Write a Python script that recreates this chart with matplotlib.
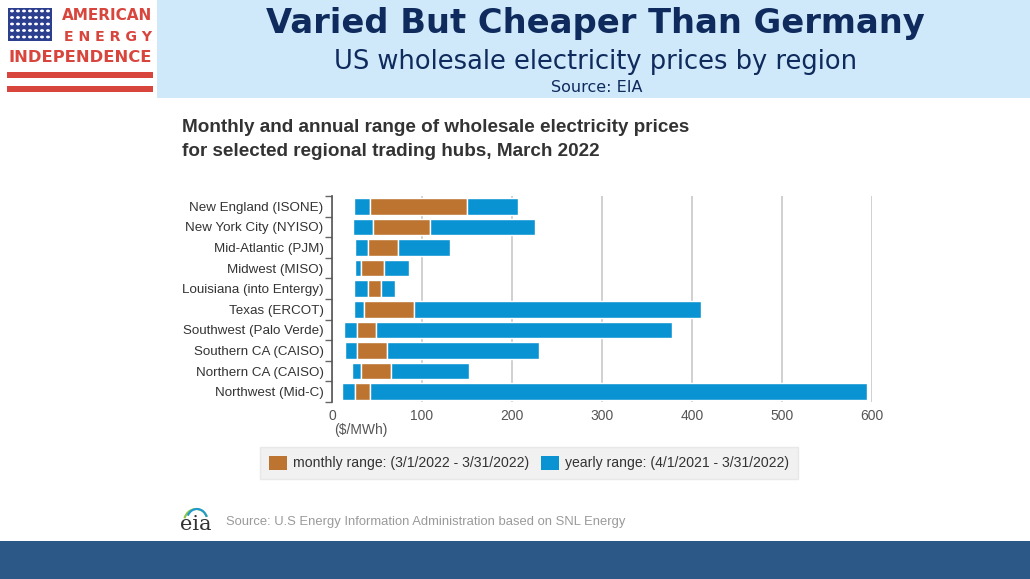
import numpy as np
import matplotlib
matplotlib.use("Agg")
import matplotlib.pyplot as plt
from matplotlib.patches import Rectangle, Patch, Arc

# price ranges in $/MWh
regions = ["New England (ISONE)", "New York City (NYISO)", "Mid-Atlantic (PJM)",
           "Midwest (MISO)", "Louisiana (into Entergy)", "Texas (ERCOT)",
           "Southwest (Palo Verde)", "Southern CA (CAISO)", "Northern CA (CAISO)",
           "Northwest (Mid-C)"]
year_low = [24, 23, 26, 25, 24, 24, 13, 14, 22, 11]
month_low = [42, 46, 40, 32, 40, 36, 28, 28, 32, 26]
month_high = [150, 109, 73, 58, 54, 91, 49, 61, 65, 42]
year_high = [207, 225, 131, 86, 70, 410, 378, 230, 152, 594]
xticks = [0, 100, 200, 300, 400, 500, 600]

W, H = 1030, 579
BLUE = "#0a93d2"
ORANGE = "#bd7430"


def fx(x):
    return x / W


def fy(y):
    return 1 - y / H


fig = plt.figure(figsize=(W / 100, H / 100), dpi=100)
plt.rcParams["font.family"] = ["Liberation Sans", "DejaVu Sans"]

# header band
fig.add_artist(Rectangle((fx(157), fy(98)), fx(W - 157), 98 / H,
                         transform=fig.transFigure, facecolor="#cfe9fa", edgecolor="none"))
# bottom band
fig.add_artist(Rectangle((0, 0), 1, 38 / H, transform=fig.transFigure,
                         facecolor="#2b5887", edgecolor="none"))

# logo
RED = "#d8453d"
NAVY_FLAG = "#2c3e8e"
fig.add_artist(Rectangle((fx(8), fy(41)), fx(44), 33 / H, transform=fig.transFigure,
                         facecolor=NAVY_FLAG, edgecolor="none"))
for r in range(5):
    for c in range(7):
        fig.add_artist(plt.Circle((fx(12 + c * 6), fy(11 + r * 6.5)), 0.0012,
                                  transform=fig.transFigure, color="white"))
for ys in (72, 86):
    fig.add_artist(Rectangle((fx(7), fy(ys + 6)), fx(146), 6 / H, transform=fig.transFigure,
                             facecolor=RED, edgecolor="none"))
fig.text(fx(152), fy(16), "AMERICAN", ha="right", va="center", fontsize=11,
         fontweight="bold", color=RED, family="DejaVu Sans")
fig.text(fx(152), fy(37), "E N E R G Y", ha="right", va="center", fontsize=10.2,
         fontweight="bold", color=RED, family="DejaVu Sans")
fig.text(fx(80), fy(57), "INDEPENDENCE", ha="center", va="center", fontsize=11.8,
         fontweight="bold", color=RED, family="DejaVu Sans")

# header texts
fig.text(fx(595), fy(23), "Varied But Cheaper Than Germany", ha="center", va="center",
         fontsize=24.3, fontweight="bold", color="#0f2a5c", family="DejaVu Sans")
fig.text(fx(596), fy(62), "US wholesale electricity prices by region", ha="center",
         va="center", fontsize=18.5, color="#0f2a5c", family="DejaVu Sans")
fig.text(fx(597), fy(88), "Source: EIA", ha="center", va="center", fontsize=11.5,
         color="#0f2a5c", family="DejaVu Sans")

# chart title
fig.text(fx(182), fy(128), "Monthly and annual range of wholesale electricity prices",
         ha="left", va="center", fontsize=13.6, fontweight="bold", color="#333333")
fig.text(fx(182), fy(151), "for selected regional trading hubs, March 2022",
         ha="left", va="center", fontsize=13.6, fontweight="bold", color="#333333")

# chart axes
ax = fig.add_axes([fx(332), fy(402), fx(872 - 332), 206 / H])
y = np.arange(len(regions))
yl = np.array(year_low)
ml = np.array(month_low)
mh = np.array(month_high)
yh = np.array(year_high)
ax.barh(y, ml - yl, left=yl, height=0.8, color=BLUE, edgecolor="white", linewidth=1.0)
ax.barh(y, mh - ml, left=ml, height=0.8, color=ORANGE, edgecolor="white", linewidth=1.0)
ax.barh(y, yh - mh, left=mh, height=0.8, color=BLUE, edgecolor="white", linewidth=1.0)

ax.set_xlim(0, 600)
ax.set_ylim(len(regions) - 0.5, -0.5)
ax.set_xticks(xticks)
ax.set_xticklabels([str(t) for t in xticks])
ax.set_yticks(y)
ax.set_yticklabels(regions)
ax.set_yticks(np.arange(-0.5, len(regions), 1.0), minor=True)
ax.tick_params(axis="y", which="major", length=0, pad=6, labelsize=9.6, labelcolor="#333333")
ax.tick_params(axis="y", which="minor", length=5, color="#666666", width=1)
ax.tick_params(axis="x", length=0, pad=5, labelsize=10, labelcolor="#555555")
ax.grid(axis="x", color="#c8c8c8", linewidth=1.2)
ax.set_axisbelow(True)
for side in ("top", "right", "bottom"):
    ax.spines[side].set_visible(False)
ax.spines["left"].set_color("#555555")
ax.spines["left"].set_linewidth(1.2)

fig.text(fx(361), fy(430), "($/MWh)", ha="center", va="center", fontsize=10,
         color="#555555")

# legend
handles = [Patch(facecolor=ORANGE, edgecolor="none"), Patch(facecolor=BLUE, edgecolor="none")]
labels = ["monthly range: (3/1/2022 - 3/31/2022)", "yearly range: (4/1/2021 - 3/31/2022)"]
leg = fig.legend(handles, labels, loc="center", bbox_to_anchor=(fx(529), fy(463)), ncol=2,
                 fontsize=10.1, frameon=True, fancybox=False, handlelength=1.3,
                 handleheight=1.2, columnspacing=0.8, handletextpad=0.45,
                 borderpad=0.6)
leg.get_frame().set_facecolor("#eeeeee")
leg.get_frame().set_edgecolor("#e4e4e4")
for t in leg.get_texts():
    t.set_color("#333333")

# footer
fig.text(fx(180), fy(524), "eia", ha="left", va="center", fontsize=15,
         family="DejaVu Serif", color="#333333")
fig.add_artist(Arc((fx(196), fy(522)), fx(24), 26 / H, theta1=40, theta2=150,
                   transform=fig.transFigure, color="#8cc63f", linewidth=1.5))
fig.add_artist(Arc((fx(197), fy(520)), fx(20), 22 / H, theta1=30, theta2=140,
                   transform=fig.transFigure, color="#1f9ad6", linewidth=1.5))
fig.text(fx(226), fy(522), "Source: U.S Energy Information Administration based on SNL Energy",
         ha="left", va="center", fontsize=9.4, color="#9a9a9a")

fig.savefig("out.png", dpi=100)
